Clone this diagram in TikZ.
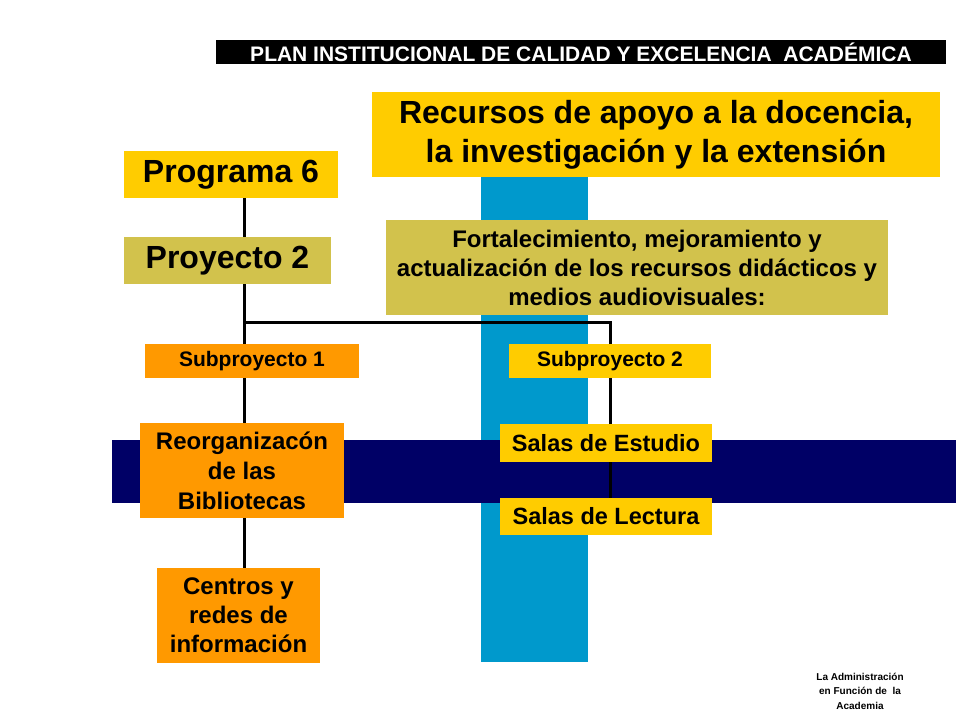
\documentclass[tikz,border=0pt]{standalone}
\usepackage{fontspec}
\setmainfont{Liberation Sans}
\definecolor{yel}{HTML}{FFCC00}
\definecolor{olv}{HTML}{D2C24C}
\definecolor{org}{HTML}{FF9900}
\definecolor{sky}{HTML}{0099CC}
\definecolor{navy}{HTML}{000066}
\tikzset{
 bx/.style={inner sep=0pt,align=center,font=\bfseries},
 ln/.style={line width=3pt,black}
}
\begin{document}
\begin{tikzpicture}[x=1pt,y=-1pt]
\useasboundingbox[fill=white] (0,0) rectangle (960,720);
\fill[sky] (481,175) rectangle (588,662);
\fill[navy] (112,440) rectangle (956,503);
\node[bx,fill=black,text=white,minimum width=730,minimum height=24,font=\bfseries\fontsize{21}{24}\selectfont] (hdr) at (581,52) {PLAN INSTITUCIONAL DE CALIDAD Y EXCELENCIA\ \ ACADÉMICA};
\coordinate (j1) at (244,322);
\coordinate (j2) at (610,322);
\node[bx,fill=yel,minimum width=568,minimum height=85,font=\bfseries\fontsize{32}{39}\selectfont] (rec) at (656,134.5) {Recursos de apoyo a la docencia,\\la investigación y la extensión};
\node[bx,fill=yel,minimum width=214,minimum height=47,font=\bfseries\fontsize{32}{36}\selectfont] (p6) at (231,174.5) {Programa 6};
\node[bx,fill=olv,minimum width=207,minimum height=47,font=\bfseries\fontsize{32}{36}\selectfont] (p2) at (227.5,260.5) {Proyecto 2};
\node[bx,fill=olv,minimum width=502,minimum height=95,font=\bfseries\fontsize{24}{29}\selectfont] (fort) at (637,267.5) {Fortalecimiento, mejoramiento y\\actualización de los recursos didácticos y\\medios audiovisuales:};
\node[bx,fill=org,minimum width=214,minimum height=34,font=\bfseries\fontsize{21}{24}\selectfont] (s1) at (252,361) {Subproyecto 1};
\node[bx,fill=yel,minimum width=202,minimum height=34,font=\bfseries\fontsize{21}{24}\selectfont] (s2) at (610,361) {Subproyecto 2};
\node[bx,fill=org,minimum width=204,minimum height=95,font=\bfseries\fontsize{24}{30}\selectfont] (reo) at (242,470.5) {Reorganizacón\\de las\\Bibliotecas};
\node[bx,fill=yel,minimum width=212,minimum height=38,font=\bfseries\fontsize{23.5}{27}\selectfont] (se) at (606,443) {Salas de Estudio};
\node[bx,fill=yel,minimum width=212,minimum height=37,font=\bfseries\fontsize{23.5}{27}\selectfont] (sl) at (606,516.5) {Salas de Lectura};
\node[bx,fill=org,minimum width=163,minimum height=95,font=\bfseries\fontsize{24}{29}\selectfont] (cen) at (238.5,615.5) {Centros y\\redes de\\información};
\node[bx,font=\bfseries\fontsize{10}{14.5}\selectfont] (adm) at (860,691) {La Administración\\en Función de\ \ la\\Academia};
\draw[ln] (p6.south -| j1) -- (p2.north -| j1);
\draw[ln] (p2.south -| j1) -- (s1.north -| j1);
\draw[ln] (j1) -- (j2) -- (s2.north -| j2);
\draw[ln] (s1.south -| j1) -- (reo.north -| j1);
\draw[ln] (reo.south -| j1) -- (cen.north -| j1);
\draw[ln] (s2.south -| j2) -- (se.north -| j2);
\draw[ln] (se.south -| j2) -- (sl.north -| j2);
\end{tikzpicture}
\end{document}
